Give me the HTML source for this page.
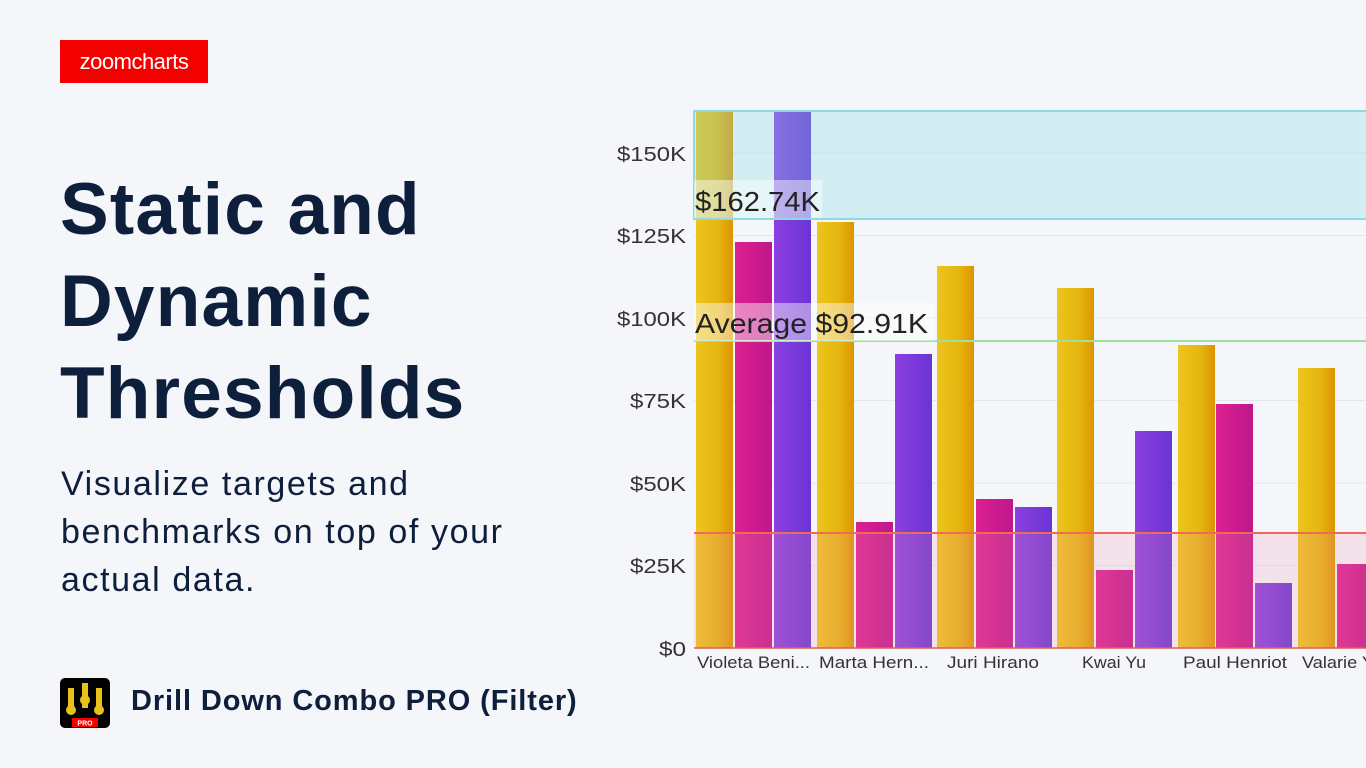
<!DOCTYPE html>
<html><head><meta charset="utf-8"><style>
body{margin:0;width:1366px;height:768px;background:#f4f6fa;overflow:hidden;position:relative;font-family:"Liberation Sans",sans-serif;color:#0e1f3c}
.logo{position:absolute;left:60px;top:40px;width:148px;height:43px;background:#f40000;color:#fff;font-size:22px;line-height:43px;text-align:center;letter-spacing:-0.5px}
h1{position:absolute;left:60px;top:164px;margin:0;font-size:73px;line-height:92px;font-weight:bold;color:#0e1f3c;letter-spacing:1.2px}
.sub{position:absolute;left:61px;top:460px;font-size:34px;line-height:48px;color:#0e1f3c;letter-spacing:1.6px}
.ic{position:absolute;left:60px;top:678px;width:50px;height:50px;background:#000;border-radius:5px}
.ft{position:absolute;left:131px;top:685px;font-size:29px;font-weight:bold;color:#0e1f3c;letter-spacing:0.9px}
</style></head><body>
<div class="logo">zoomcharts</div>
<h1>Static and<br>Dynamic<br>Thresholds</h1>
<div class="sub">Visualize targets and<br>benchmarks on top of your<br>actual data.</div>
<div class="ic"><svg width="50" height="50"><g fill="#e8c21a"><rect x="8" y="10" width="6" height="20"/><rect x="22" y="5" width="6" height="25"/><rect x="36" y="10" width="6" height="20"/><circle cx="11" cy="32" r="5"/><circle cx="25" cy="22" r="5"/><circle cx="39" cy="32" r="5"/></g><rect x="12" y="40" width="26" height="9" fill="#f40000"/><text x="25" y="47.5" font-size="7" fill="#fff" text-anchor="middle" font-weight="bold">PRO</text></svg></div>
<div class="ft">Drill Down Combo PRO (Filter)</div>
<svg style="position:absolute;left:0;top:0" width="1366" height="768">
<defs>
<linearGradient id="y"><stop offset="0" stop-color="#ecc51c"/><stop offset="0.6" stop-color="#e6b510"/><stop offset="1" stop-color="#dc9400"/></linearGradient>
<linearGradient id="p"><stop offset="0" stop-color="#dc2090"/><stop offset="1" stop-color="#c0168c"/></linearGradient>
<linearGradient id="v"><stop offset="0" stop-color="#8c40e0"/><stop offset="1" stop-color="#6a34d4"/></linearGradient>
</defs>
<g stroke="#e4e6ec" stroke-width="1">
<line x1="694" x2="1366" y1="153" y2="153"/><line x1="694" x2="1366" y1="235.5" y2="235.5"/><line x1="694" x2="1366" y1="318" y2="318"/><line x1="694" x2="1366" y1="400.5" y2="400.5"/><line x1="694" x2="1366" y1="483" y2="483"/><line x1="694" x2="1366" y1="565.5" y2="565.5"/>
</g>
<g font-size="20" fill="#333">
<text x="617" y="161" textLength="69" lengthAdjust="spacingAndGlyphs">$150K</text>
<text x="617" y="243" textLength="69" lengthAdjust="spacingAndGlyphs">$125K</text>
<text x="617" y="326" textLength="69" lengthAdjust="spacingAndGlyphs">$100K</text>
<text x="630" y="408" textLength="56" lengthAdjust="spacingAndGlyphs">$75K</text>
<text x="630" y="491" textLength="56" lengthAdjust="spacingAndGlyphs">$50K</text>
<text x="630" y="573" textLength="56" lengthAdjust="spacingAndGlyphs">$25K</text>
<text x="659" y="656" textLength="27" lengthAdjust="spacingAndGlyphs">$0</text>
</g>
<g>
<rect x="696" y="111" width="37" height="537" fill="url(#y)"/><rect x="735" y="242" width="37" height="406" fill="url(#p)"/><rect x="774" y="111" width="37" height="537" fill="url(#v)"/>
<rect x="817" y="222" width="37" height="426" fill="url(#y)"/><rect x="856" y="522" width="37" height="126" fill="url(#p)"/><rect x="895" y="354" width="37" height="294" fill="url(#v)"/>
<rect x="937" y="266" width="37" height="382" fill="url(#y)"/><rect x="976" y="499" width="37" height="149" fill="url(#p)"/><rect x="1015" y="507" width="37" height="141" fill="url(#v)"/>
<rect x="1057" y="288" width="37" height="360" fill="url(#y)"/><rect x="1096" y="570" width="37" height="78" fill="url(#p)"/><rect x="1135" y="431" width="37" height="217" fill="url(#v)"/>
<rect x="1178" y="345" width="37" height="303" fill="url(#y)"/><rect x="1216" y="404" width="37" height="244" fill="url(#p)"/><rect x="1255" y="583" width="37" height="65" fill="url(#v)"/>
<rect x="1298" y="368" width="37" height="280" fill="url(#y)"/><rect x="1337" y="564" width="37" height="84" fill="url(#p)"/>
</g>
<rect x="694" y="111" width="680" height="108" fill="rgba(131,219,227,0.3)" stroke="#8fd9e3" stroke-width="2"/>
<rect x="694" y="533" width="680" height="115" fill="rgba(240,150,170,0.2)"/>
<line x1="694" x2="1366" y1="533" y2="533" stroke="#f06a5a" stroke-width="2"/>
<line x1="694" x2="1366" y1="341" y2="341" stroke="#9ee0a0" stroke-width="2"/>
<line x1="694" x2="1366" y1="648" y2="648" stroke="#e06050" stroke-width="1.5"/>
<rect x="694" y="180" width="128" height="38" fill="rgba(255,255,255,0.45)"/>
<rect x="694" y="303" width="241" height="38" fill="rgba(255,255,255,0.45)"/>
<g font-size="28" fill="#222">
<text x="695" y="211" textLength="125" lengthAdjust="spacingAndGlyphs">$162.74K</text>
<text x="695" y="333" textLength="233" lengthAdjust="spacingAndGlyphs">Average $92.91K</text>
</g>
<g font-size="17" fill="#333">
<text x="697" y="668" textLength="113" lengthAdjust="spacingAndGlyphs">Violeta Beni...</text>
<text x="819" y="668" textLength="110" lengthAdjust="spacingAndGlyphs">Marta Hern...</text>
<text x="947" y="668" textLength="92" lengthAdjust="spacingAndGlyphs">Juri Hirano</text>
<text x="1082" y="668" textLength="64" lengthAdjust="spacingAndGlyphs">Kwai Yu</text>
<text x="1183" y="668" textLength="104" lengthAdjust="spacingAndGlyphs">Paul Henriot</text>
<text x="1302" y="668" textLength="72" lengthAdjust="spacingAndGlyphs">Valarie Y</text>
</g>
</svg>
</body></html>
